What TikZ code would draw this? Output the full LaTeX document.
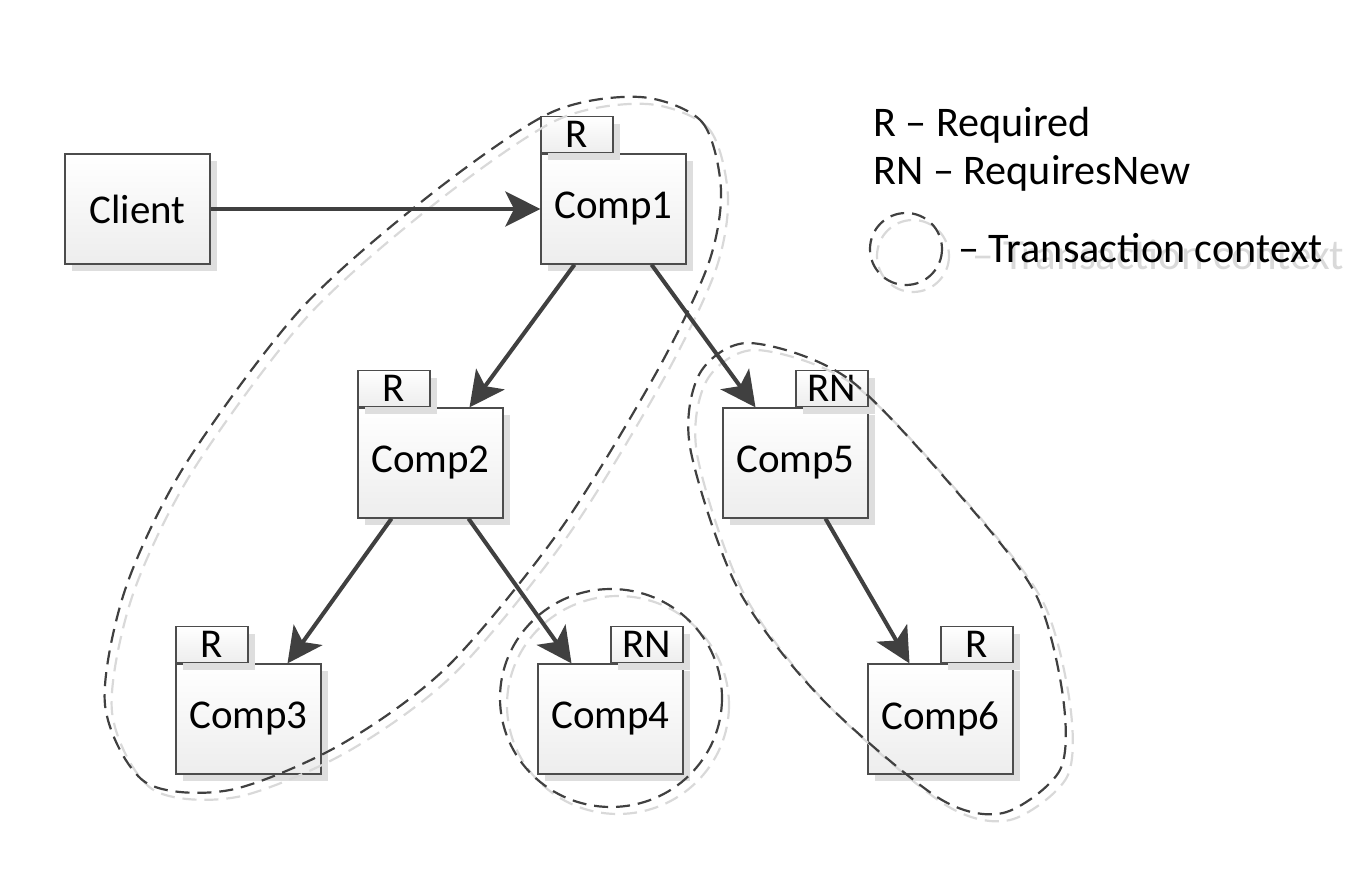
\documentclass[tikz,border=0pt]{standalone}
\usepackage{fontspec}
\setmainfont{Carlito}
\usetikzlibrary{arrows.meta,shadows}
\tikzset{>={Stealth[length=20pt,width=20pt,inset=5pt]},every node/.style={font=\fontsize{23.3}{28}\selectfont},
comp/.style={draw=black!70,line width=.7pt,top color=white,bottom color=black!7,minimum width=2.9cm,minimum height=2.2cm,
  drop shadow={shadow xshift=.14cm,shadow yshift=-.14cm,fill=black!13,opacity=1}},
tag/.style={comp,minimum width=1.44cm,minimum height=.72cm,inner sep=0pt},
key/.style={anchor=base west,inner sep=0pt,font=\fontsize{24}{29}\selectfont},
call/.style={line width=2.3pt,draw=black!75,->},ctx/.style={dash pattern=on 8pt off 4.5pt,line width=1.25pt}}
\begin{document}
\begin{tikzpicture}[x=.02cm,y=-.02cm]
\useasboundingbox (0,0) rectangle (1356,891);
\node[comp] (client) at (137.5,209) {Client};
\node[comp] (c1) at (613.5,209) {Comp1};\node[tag,anchor=south west] (t1) at (c1.north west) {R};
\node[comp] (c2) at (430.5,463) {Comp2};\node[tag,anchor=south west] (t2) at (c2.north west) {R};
\node[comp] (c5) at (795.5,463) {Comp5};\node[tag,anchor=south east] (t5) at (c5.north east) {RN};
\node[comp] (c3) at (248.5,719) {Comp3};\node[tag,anchor=south west] (t3) at (c3.north west) {R};
\node[comp] (c4) at (610.5,719) {Comp4};\node[tag,anchor=south east] (t4) at (c4.north east) {RN};
\node[comp] (c6) at (940.5,719) {Comp6};\node[tag,anchor=south east] (t6) at (c6.north east) {R};
% transaction contexts, grey copy first
\foreach \s/\c in {7/black!15,0/black!75}{\begin{scope}[shift={(\s,\s)},color=\c,ctx]
\draw plot[smooth cycle] coordinates {(640,97) (702,122) (721,190) (708,265) (655,375) (560,530) (447,667) (340,745) (230,790) (145,782) (105,705) (125,590) (185,465) (300,310) (430,195) (550,113)};
\draw plot[smooth cycle] coordinates {(750,343) (850,380) (970,507) (1037,597) (1063,697) (1060,770) (1003,813) (937,797) (820,697) (737,587) (690,447) (700,373)};
\draw (611,698) circle[x radius=111,y radius=109];
\draw (906,249) circle[radius=36];\end{scope}}
\draw[call] (client) -- (c1);
\draw[call] ([xshift=-.78cm]c1.south) -- ([xshift=.78cm]c2.north);
\draw[call] ([xshift=.76cm]c1.south) -- ([xshift=-.8cm]c5.north);
\draw[call] ([xshift=-.78cm]c2.south) -- ([xshift=.78cm]c3.north);
\draw[call] ([xshift=.76cm]c2.south) -- ([xshift=-.78cm]c4.north);
\draw[call] ([xshift=.6cm]c5.south) -- ([xshift=-.62cm]c6.north);
\node[key] (lr) at (873,137) {R – Required};
\node[key] (lrn) at (873,185) {RN – RequiresNew};
\node[key,text=black!15,scale=1.02] (lctxs) at (972,270) {– Transaction context};
\node[key] (lctx) at (958,263) {– Transaction context};
\end{tikzpicture}
\end{document}
